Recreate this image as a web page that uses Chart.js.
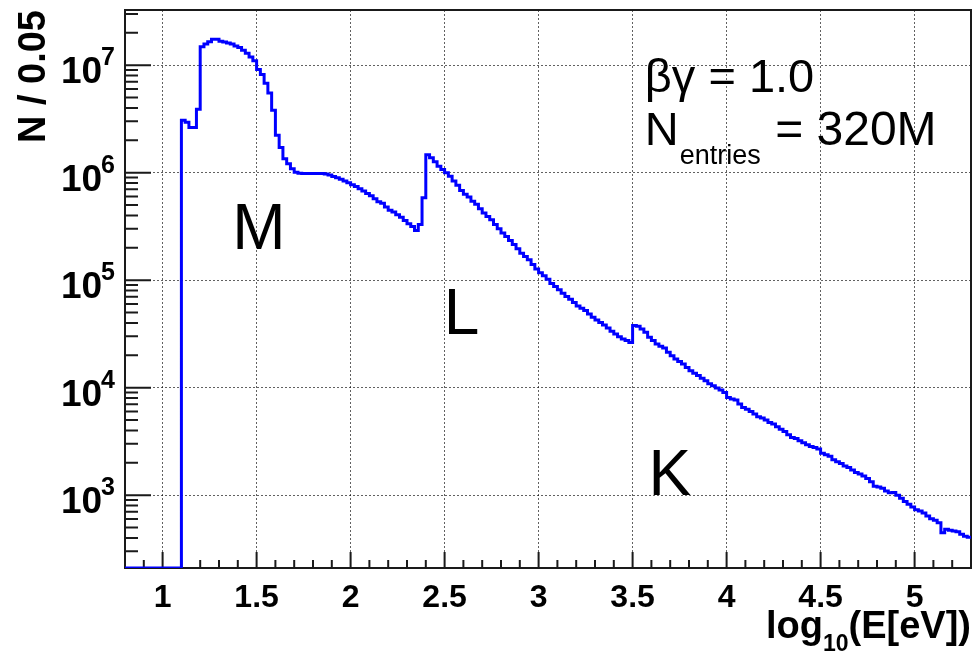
<!DOCTYPE html>
<html>
<head>
<meta charset="utf-8">
<title>Energy deposit spectrum</title>
<script src="https://cdn.jsdelivr.net/npm/chart.js@4.4.1/dist/chart.umd.min.js"></script>
<style>
  html, body { margin: 0; padding: 0; background: #fff; }
  canvas { display: block; }
</style>
</head>
<body>
<canvas id="spectrum" width="972" height="657"></canvas>
<script>
'use strict';

// ── DATA ─────────────────────────────────────────────────────

// histogram binning along log10(E[eV])
const BIN_START = 0.8;
const BIN_WIDTH = 0.02;

// entries per bin, one row = 10 bins (0.2 in log10 E)
const COUNTS = [
  0, 0, 0, 0, 0, 0, 0, 0, 0, 0,                                                   // 0.80
  0, 0, 0, 0, 0, 3.07e6, 2.95e6, 2.63e6, 2.63e6, 3.89e6,                          // 1.00
  1.48e7, 1.57e7, 1.65e7, 1.74e7, 1.74e7, 1.67e7, 1.64e7, 1.61e7, 1.57e7, 1.51e7, // 1.20
  1.46e7, 1.38e7, 1.29e7, 1.19e7, 1.10e7, 9.1e6, 8.2e6, 6.8e6, 5.5e6, 3.8e6,      // 1.40
  2.23e6, 1.71e6, 1.35e6, 1.21e6, 1.09e6, 1.01e6, 9.9e5, 9.8e5, 9.8e5, 9.8e5,     // 1.60
  9.8e5, 9.8e5, 9.8e5, 9.7e5, 9.5e5, 9.2e5, 8.97e5, 8.7e5, 8.36e5, 8.07e5,        // 1.80
  7.73e5, 7.45e5, 7.08e5, 6.76e5, 6.41e5, 6.11e5, 5.73e5, 5.37e5, 5.18e5, 4.79e5, // 2.00
  4.47e5, 4.30e5, 4.07e5, 3.85e5, 3.59e5, 3.35e5, 3.16e5, 2.90e5, 3.30e5, 5.85e5, // 2.20
  1.47e6, 1.38e6, 1.26e6, 1.15e6, 1.07e6, 1.0e6, 9.25e5, 8.36e5, 7.62e5, 6.84e5,  // 2.40
  6.31e5, 5.93e5, 5.43e5, 5.07e5, 4.62e5, 4.21e5, 3.92e5, 3.65e5, 3.30e5, 3.01e5, // 2.60
  2.74e5, 2.55e5, 2.34e5, 2.15e5, 1.96e5, 1.78e5, 1.66e5, 1.55e5, 1.40e5, 1.27e5, // 2.80
  1.17e5, 1.10e5, 1.02e5, 9.33e4, 8.71e4, 8.13e4, 7.55e4, 7.03e4, 6.64e4, 6.18e4, // 3.00
  5.75e4, 5.47e4, 5.21e4, 4.85e4, 4.52e4, 4.27e4, 4.03e4, 3.83e4, 3.59e4, 3.34e4, // 3.20
  3.16e4, 2.98e4, 2.84e4, 2.74e4, 2.63e4, 3.78e4, 3.72e4, 3.52e4, 3.27e4, 2.94e4, // 3.40
  2.74e4, 2.55e4, 2.43e4, 2.34e4, 2.13e4, 1.98e4, 1.85e4, 1.75e4, 1.66e4, 1.54e4, // 3.60
  1.44e4, 1.36e4, 1.30e4, 1.22e4, 1.16e4, 1.09e4, 1.04e4, 9.91e3, 9.51e3, 9.02e3, // 3.80
  8.11e3, 7.83e3, 7.66e3, 7.03e3, 6.55e3, 6.31e3, 6.0e3, 5.68e3, 5.36e3, 5.21e3,  // 4.00
  4.99e3, 4.74e3, 4.58e3, 4.33e3, 4.11e3, 3.91e3, 3.64e3, 3.44e3, 3.37e3, 3.20e3, // 4.20
  3.07e3, 2.94e3, 2.83e3, 2.77e3, 2.68e3, 2.45e3, 2.37e3, 2.30e3, 2.14e3, 2.05e3, // 4.40
  1.97e3, 1.87e3, 1.81e3, 1.71e3, 1.62e3, 1.57e3, 1.51e3, 1.43e3, 1.33e3, 1.21e3, // 4.60
  1.19e3, 1.16e3, 1.09e3, 1.05e3, 1.06e3, 1.0e3, 935, 871, 822, 776,              // 4.80
  733, 713, 682, 640, 604, 583, 555, 447, 481, 471,                               // 5.00
  463, 457, 433, 414, 406,                                                        // 5.20
];

const X_TICKS       = [1, 1.5, 2, 2.5, 3, 3.5, 4, 4.5, 5];
const X_TICK_LABELS = ['1', '1.5', '2', '2.5', '3', '3.5', '4', '4.5', '5'];
const Y_DECADES     = [1e3, 1e4, 1e5, 1e6, 1e7];
const Y_EXPONENTS   = ['3', '4', '5', '6', '7'];

const X_MIN = 0.8;
const X_MAX = 5.3;
const Y_MIN = 210;
const Y_MAX = 3.26e7;

// ── STYLE ────────────────────────────────────────────────────

const FONT      = '"Liberation Sans", Arial, Helvetica, sans-serif';
const AXIS_INK  = '#1a1a1a';
const GRID_INK  = 'rgba(0,0,0,0.62)';
const HIST_BLUE = '#0000ff';

// ── HISTOGRAM POINTS ─────────────────────────────────────────

// one point per bin at its low edge plus a closing point at the last high edge;
// empty bins sit on the frame bottom, like ROOT does on a log axis
const points = COUNTS.map((n, i) => ({ x: BIN_START + i * BIN_WIDTH, y: n > 0 ? n : Y_MIN }));
points.push({ x: BIN_START + COUNTS.length * BIN_WIDTH, y: COUNTS[COUNTS.length - 1] });

// ── FRAME, TICKS AND TEXT ────────────────────────────────────

const rootFrame = {
  id: 'rootFrame',

  beforeDatasetsDraw(chart) {
    const { ctx, chartArea: a, scales: { x, y } } = chart;
    ctx.save();
    ctx.strokeStyle = AXIS_INK;
    ctx.lineWidth = 2;
    ctx.beginPath();

    // x ticks every 0.1, long ones on the labelled values
    for (let k = 9; k <= 52; k++) {
      const px = x.getPixelForValue(k / 10);
      const len = k % 5 === 0 ? 16 : 8;
      ctx.moveTo(px, a.bottom);
      ctx.lineTo(px, a.bottom - len);
    }

    // y ticks: decades long, 2..9 short
    for (let e = 2; e <= 7; e++) {
      for (let m = 1; m <= 9; m++) {
        const v = m * Math.pow(10, e);
        if (v < Y_MIN || v > Y_MAX) continue;
        const py = y.getPixelForValue(v);
        ctx.moveTo(a.left, py);
        ctx.lineTo(a.left + (m === 1 ? 26 : 13), py);
      }
    }
    ctx.stroke();

    ctx.strokeRect(a.left, a.top, a.right - a.left, a.bottom - a.top);
    ctx.restore();
  },

  afterDraw(chart) {
    const { ctx, chartArea: a, scales: { x, y } } = chart;
    ctx.save();
    ctx.fillStyle = '#000';
    ctx.textBaseline = 'alphabetic';

    // x tick labels
    ctx.font = `bold 32px ${FONT}`;
    ctx.textAlign = 'center';
    X_TICKS.forEach((v, i) => {
      ctx.fillText(X_TICK_LABELS[i], x.getPixelForValue(v), a.bottom + 39);
    });

    // y tick labels 10^n
    ctx.textAlign = 'right';
    Y_DECADES.forEach((v, i) => {
      const py = y.getPixelForValue(v);
      const right = a.left - 10;
      ctx.font = `bold 25px ${FONT}`;
      ctx.fillText(Y_EXPONENTS[i], right, py);
      const ew = ctx.measureText(Y_EXPONENTS[i]).width;
      ctx.font = `bold 37px ${FONT}`;
      ctx.fillText('10', right - ew + 1, py + 18);
    });

    // y title, rotated, flush with the frame top
    ctx.save();
    ctx.translate(45, a.top);
    ctx.rotate(-Math.PI / 2);
    ctx.font = `bold 38px ${FONT}`;
    ctx.textAlign = 'right';
    ctx.fillText('N / 0.05', 0, 0);
    ctx.restore();

    // x title log_10(E[eV]), flush right
    ctx.textAlign = 'left';
    const big = `bold 38px ${FONT}`;
    const sub = `bold 23px ${FONT}`;
    ctx.font = big;
    const wLog = ctx.measureText('log').width;
    const wTail = ctx.measureText('(E[eV])').width;
    ctx.font = sub;
    const wSub = ctx.measureText('10').width;
    let tx = 971 - (wLog + wSub + wTail);
    const base = a.bottom + 70;
    ctx.font = big;
    ctx.fillText('log', tx, base);
    tx += wLog;
    ctx.font = sub;
    ctx.fillText('10', tx, base + 13);
    tx += wSub;
    ctx.font = big;
    ctx.fillText('(E[eV])', tx, base);

    // shell labels
    ctx.font = `64px ${FONT}`;
    ctx.fillText('M', x.getPixelForValue(1.37), y.getPixelForValue(1.97e5));
    ctx.fillText('L', x.getPixelForValue(2.495), y.getPixelForValue(3.18e4));
    ctx.fillText('K', x.getPixelForValue(3.584), y.getPixelForValue(1.0e3));

    // run info
    const sx = x.getPixelForValue(3.565);
    ctx.font = `47px ${FONT}`;
    ctx.fillText('\u03b2\u03b3 = 1.0', sx, y.getPixelForValue(5.6e6));
    const line2 = y.getPixelForValue(1.8e6);
    ctx.fillText('N', sx, line2);
    let nx = sx + ctx.measureText('N').width;
    ctx.font = `27px ${FONT}`;
    ctx.fillText('entries', nx + 1, line2 + 19);
    nx += ctx.measureText('entries').width + 2;
    ctx.font = `48px ${FONT}`;
    ctx.fillText(' = 320M', nx, line2);

    ctx.restore();
  },
};

// ── CHART ────────────────────────────────────────────────────

const zeroSize = scale => {
  if (scale.isHorizontal()) scale.height = 0;
  else scale.width = 0;
};

new Chart(document.getElementById('spectrum'), {
  type: 'line',
  data: {
    datasets: [{
      data: points,
      // each bin's level runs from its low edge to the next one
      stepped: 'before',
      borderColor: HIST_BLUE,
      borderWidth: 3,
      pointRadius: 0,
      fill: false,
    }],
  },
  options: {
    responsive: false,
    animation: false,
    events: [],
    layout: { padding: { left: 125, top: 10, right: 1, bottom: 89 } },
    plugins: { legend: { display: false }, tooltip: { enabled: false } },
    scales: {
      x: {
        type: 'linear',
        min: X_MIN,
        max: X_MAX,
        afterBuildTicks: s => { s.ticks = X_TICKS.map(v => ({ value: v })); },
        afterFit: zeroSize,
        ticks: { display: false },
        grid: { color: GRID_INK, lineWidth: 1, drawTicks: false },
        border: { display: false, dash: [2, 2] },
      },
      y: {
        type: 'logarithmic',
        min: Y_MIN,
        max: Y_MAX,
        afterBuildTicks: s => { s.ticks = Y_DECADES.map(v => ({ value: v })); },
        afterFit: zeroSize,
        ticks: { display: false },
        grid: { color: GRID_INK, lineWidth: 1, drawTicks: false },
        border: { display: false, dash: [2, 2] },
      },
    },
  },
  plugins: [rootFrame],
});
</script>
</body>
</html>
